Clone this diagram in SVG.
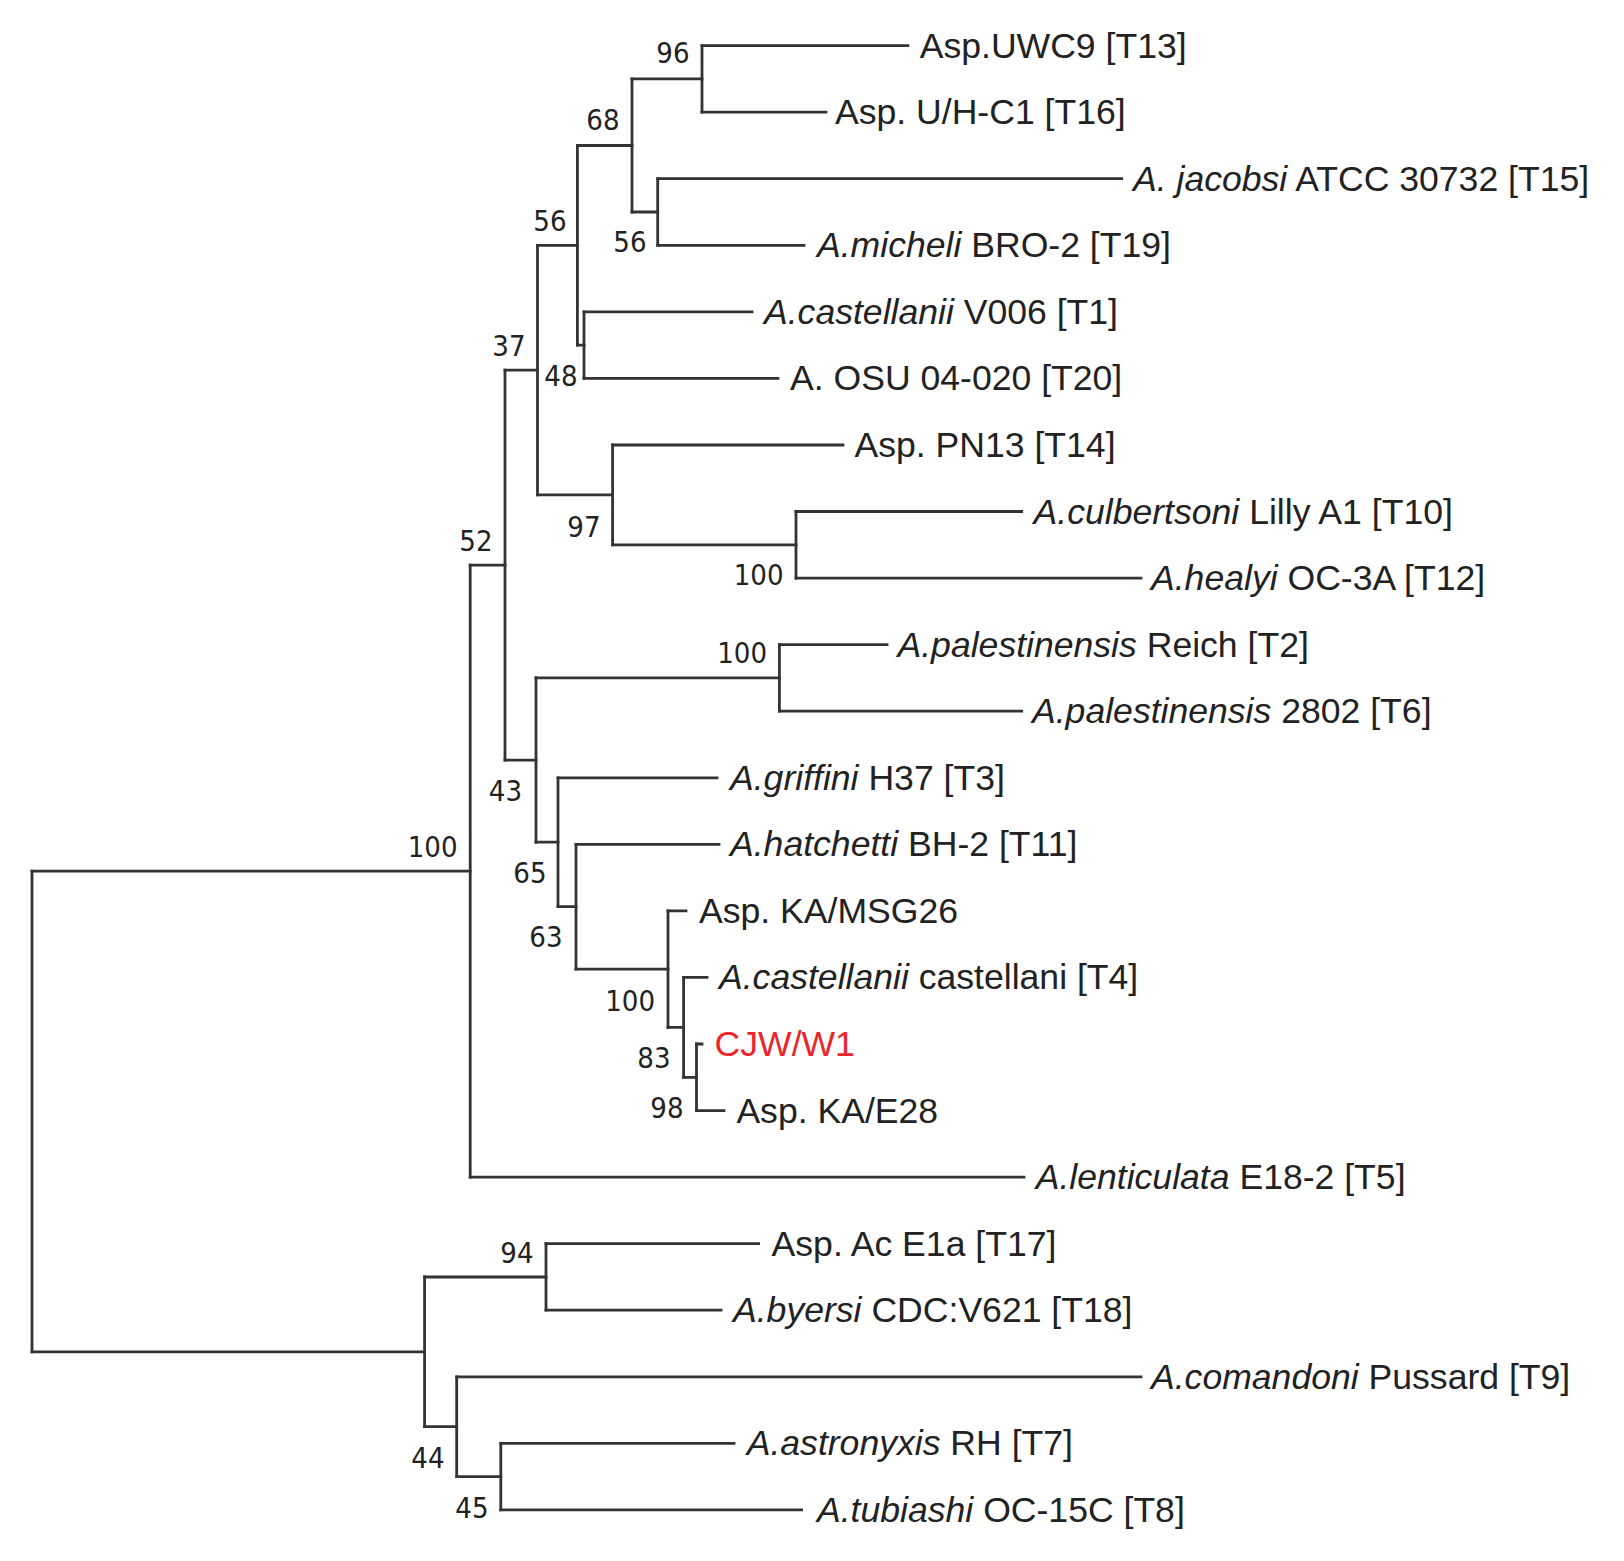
<svg xmlns="http://www.w3.org/2000/svg" width="1624" height="1561" viewBox="0 0 1624 1561">
<style>
.br{fill:none;stroke:#333;stroke-width:2.8;stroke-linecap:square}
.lf{font-family:"Liberation Sans",Arial,sans-serif;font-size:35.6px;fill:#222}
.it{font-style:italic}
.red{fill:#e8262b}
.bs{font-family:"DejaVu Sans Condensed","DejaVu Sans",sans-serif;font-size:29px;fill:#222;text-anchor:end}
</style>
<rect width="1624" height="1561" fill="#fff"/>
<g id="connectors">
<path class="br" d="M702 45.6H907.8M702 112.2H826M657.7 178.7H1121.7M657.7 245.3H804M584 311.8H752M584 378.4H778M612.6 445H843M796 511.5H1021.7M796 578.1H1141M779.4 644.6H887M779.4 711.2H1021.7M558 777.8H717M576 844.3H719M668 910.9H686M683.6 977.4H707M696.5 1044H702M696.5 1110.6H724M470.2 1177.1H1024M546 1243.7H758.6M546 1310.2H721M456.7 1376.8H1141M500.8 1443.4H734M500.8 1509.9H801.6"/>
<path class="br" d="M632 78.9H702M632 212H657.7M577.4 145.5H632M577.4 345.1H584M537.5 245.3H577.4M612.6 544.8H796M537.5 494.9H612.6M505 370.1H537.5M536 677.9H779.4M683.6 1077.3H696.5M668 1027.4H683.6M576 969.1H668M558 906.7H576M536 842.2H558M505 760.1H536M470.2 565.1H505M32 871.1H470.2M424.6 1277H546M456.7 1476.6H500.8M424.6 1426.7H456.7M32 1351.8H424.6"/>
<path class="br" d="M702 45.6V112.2M657.7 178.7V245.3M632 78.9V212M584 311.8V378.4M577.4 145.5V345.1M796 511.5V578.1M612.6 445V544.8M537.5 245.3V494.9M779.4 644.6V711.2M696.5 1044V1110.6M683.6 977.4V1077.3M668 910.9V1027.4M576 844.3V969.1M558 777.8V906.7M536 677.9V842.2M505 370.1V760.1M470.2 565.1V1177.1M546 1243.7V1310.2M500.8 1443.4V1509.9M456.7 1376.8V1476.6M424.6 1277V1426.7M32 871.1V1351.8"/>
</g>
<g id="leaf-T13"><text class="lf" x="919.7" y="57.6">Asp.UWC9 [T13]</text></g>
<g id="leaf-T16"><text class="lf" x="835" y="124.2">Asp. U/H-C1 [T16]</text></g>
<g id="leaf-T15"><text class="lf" x="1133" y="190.7"><tspan class="it">A. jacobsi</tspan> ATCC 30732 [T15]</text></g>
<g id="leaf-T19"><text class="lf" x="817" y="257.3"><tspan class="it">A.micheli</tspan> BRO-2 [T19]</text></g>
<g id="leaf-T1"><text class="lf" x="764" y="323.8"><tspan class="it">A.castellanii</tspan> V006 [T1]</text></g>
<g id="leaf-T20"><text class="lf" x="790" y="390.4">A. OSU 04-020 [T20]</text></g>
<g id="leaf-T14"><text class="lf" x="854.5" y="457">Asp. PN13 [T14]</text></g>
<g id="leaf-T10"><text class="lf" x="1033.6" y="523.5"><tspan class="it">A.culbertsoni</tspan> Lilly A1 [T10]</text></g>
<g id="leaf-T12"><text class="lf" x="1151" y="590.1"><tspan class="it">A.healyi</tspan> OC-3A [T12]</text></g>
<g id="leaf-T2"><text class="lf" x="897.5" y="656.6"><tspan class="it">A.palestinensis</tspan> Reich [T2]</text></g>
<g id="leaf-T6"><text class="lf" x="1032" y="723.2"><tspan class="it">A.palestinensis</tspan> 2802 [T6]</text></g>
<g id="leaf-T3"><text class="lf" x="730" y="789.8"><tspan class="it">A.griffini</tspan> H37 [T3]</text></g>
<g id="leaf-T11"><text class="lf" x="730" y="856.3"><tspan class="it">A.hatchetti</tspan> BH-2 [T11]</text></g>
<g id="leaf-KAMSG26"><text class="lf" x="699" y="922.9">Asp. KA/MSG26</text></g>
<g id="leaf-T4"><text class="lf" x="719" y="989.4"><tspan class="it">A.castellanii</tspan> castellani [T4]</text></g>
<g id="leaf-CJWW1"><text class="lf red" x="714.6" y="1056">CJW/W1</text></g>
<g id="leaf-KAE28"><text class="lf" x="736.4" y="1122.6">Asp. KA/E28</text></g>
<g id="leaf-T5"><text class="lf" x="1035.7" y="1189.1"><tspan class="it">A.lenticulata</tspan> E18-2 [T5]</text></g>
<g id="leaf-T17"><text class="lf" x="771.6" y="1255.7">Asp. Ac E1a [T17]</text></g>
<g id="leaf-T18"><text class="lf" x="733" y="1322.2"><tspan class="it">A.byersi</tspan> CDC:V621 [T18]</text></g>
<g id="leaf-T9"><text class="lf" x="1151" y="1388.8"><tspan class="it">A.comandoni</tspan> Pussard [T9]</text></g>
<g id="leaf-T7"><text class="lf" x="746.7" y="1455.4"><tspan class="it">A.astronyxis</tspan> RH [T7]</text></g>
<g id="leaf-T8"><text class="lf" x="817" y="1521.9"><tspan class="it">A.tubiashi</tspan> OC-15C [T8]</text></g>
<g id="node-96"><text class="bs" x="689.5" y="63.3">96</text></g>
<g id="node-68"><text class="bs" x="619.5" y="130">68</text></g>
<g id="node-56a"><text class="bs" x="646.5" y="252">56</text></g>
<g id="node-56b"><text class="bs" x="566.5" y="231">56</text></g>
<g id="node-37"><text class="bs" x="525.5" y="356">37</text></g>
<g id="node-48"><text class="bs" x="577.5" y="386">48</text></g>
<g id="node-97"><text class="bs" x="600.5" y="537">97</text></g>
<g id="node-100a"><text class="bs" x="783.5" y="585">100</text></g>
<g id="node-52"><text class="bs" x="492.5" y="551">52</text></g>
<g id="node-100b"><text class="bs" x="767" y="663">100</text></g>
<g id="node-43"><text class="bs" x="522" y="801">43</text></g>
<g id="node-100d"><text class="bs" x="457.5" y="856.7">100</text></g>
<g id="node-65"><text class="bs" x="546.5" y="883">65</text></g>
<g id="node-63"><text class="bs" x="562.5" y="947">63</text></g>
<g id="node-100c"><text class="bs" x="655" y="1010.7">100</text></g>
<g id="node-83"><text class="bs" x="670.5" y="1068">83</text></g>
<g id="node-98"><text class="bs" x="683.5" y="1118">98</text></g>
<g id="node-94"><text class="bs" x="533.5" y="1263">94</text></g>
<g id="node-44"><text class="bs" x="444.5" y="1468">44</text></g>
<g id="node-45"><text class="bs" x="488.5" y="1518">45</text></g>
</svg>
